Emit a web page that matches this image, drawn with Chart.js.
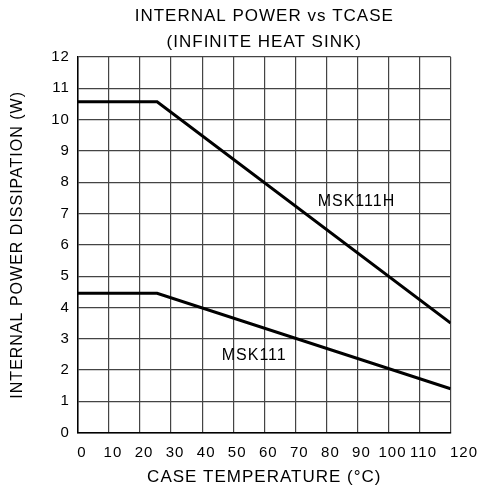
<!DOCTYPE html>
<html>
<head>
<meta charset="utf-8">
<script src="https://cdn.jsdelivr.net/npm/chart.js@4/dist/chart.umd.min.js"></script>
<style>
  html, body { margin: 0; padding: 0; background: #fff; }
</style>
</head>
<body>
<canvas id="power_chart" width="485" height="494"></canvas>
<script>
// curve break points (case temp in C, power in W)
var tcase_h = [0, 25.5, 120];
var power_h = [10.57, 10.57, 3.5];
var tcase_l = [0, 25.5, 120];
var power_l = [4.45, 4.45, 1.4];

// curve names and where they are written (data coords)
var curve_names = ['MSK111H', 'MSK111'];
var name_x = [77.2, 46.3];
var name_y = [7.38, 2.47];

var title_lines = ['INTERNAL POWER vs TCASE', '(INFINITE HEAT SINK)'];
var x_title = 'CASE TEMPERATURE (\u00B0C)';
var y_title = 'INTERNAL POWER DISSIPATION (W)';

var FONT = 'Liberation Sans';

function toPoints(xs, ys) {
    var pts = [];
    for (var i = 0; i < xs.length; ++i) {
        pts.push({x: xs[i], y: ys[i]});
    }
    return pts;
}

// the drawing uses a spaced out lettering, keep it on the context
function setSpacing(chart) {
    chart.ctx.letterSpacing = '1px';
}

var spacing = {
    id: 'spacing',
    afterInit: setSpacing,
    beforeUpdate: setSpacing,
    beforeLayout: setSpacing,
    beforeDraw: setSpacing
};

// writes the curve names inside the plot, placed with the scales
var curveNames = {
    id: 'curveNames',
    afterDatasetsDraw: function(chart) {
        var ctx = chart.ctx;
        var xs = chart.scales.x, ys = chart.scales.y;
        ctx.save();
        ctx.font = '16px "' + FONT + '"';
        ctx.fillStyle = '#000';
        ctx.textAlign = 'left';
        ctx.textBaseline = 'middle';
        for (var i = 0; i < curve_names.length; ++i) {
            ctx.fillText(curve_names[i], xs.getPixelForValue(name_x[i]), ys.getPixelForValue(name_y[i]));
        }
        ctx.restore();
    }
};

var chart_el = document.getElementById('power_chart');

let powerChart = new Chart(chart_el, {
    type: 'line',
    data: {
        datasets: [
            {
                label: curve_names[0],
                data: toPoints(tcase_h, power_h),
                borderColor: '#000',
                borderWidth: 3,
                pointRadius: 0,
                tension: 0,
                fill: false
            },
            {
                label: curve_names[1],
                data: toPoints(tcase_l, power_l),
                borderColor: '#000',
                borderWidth: 3,
                pointRadius: 0,
                tension: 0,
                fill: false
            }
        ]
    },
    options: {
        responsive: false,
        animation: false,
        layout: {
            autoPadding: false,
            padding: {left: 0, right: 30, top: 3, bottom: 6}
        },
        plugins: {
            legend: {display: false},
            tooltip: {enabled: false},
            title: {
                display: true,
                fullSize: false,
                text: title_lines,
                color: '#000',
                font: {family: FONT, size: 17, weight: 'normal', lineHeight: 1.53},
                padding: {top: 0, bottom: 2}
            }
        },
        scales: {
            x: {
                type: 'linear',
                min: 0,
                max: 120,
                border: {display: true, color: '#000', width: 1.5},
                grid: {color: '#444', lineWidth: 1.2, drawTicks: false},
                ticks: {
                    stepSize: 10,
                    autoSkip: false,
                    color: '#000',
                    padding: 11,
                    labelOffset: 4,
                    maxRotation: 0,
                    font: {family: FONT, size: 15},
                    callback: function(value) {
                        // the last label hangs past the frame
                        if (value == 120) return '\u2007\u2007' + value;
                        return value;
                    }
                },
                title: {
                    display: true,
                    text: x_title,
                    color: '#000',
                    font: {family: FONT, size: 17},
                    padding: {top: -5, bottom: 0}
                }
            },
            y: {
                min: 0,
                max: 12,
                border: {display: true, color: '#000', width: 1.5},
                grid: {color: '#444', lineWidth: 1.2, drawTicks: false},
                ticks: {
                    stepSize: 1,
                    color: '#000',
                    padding: 8,
                    font: {family: FONT, size: 15}
                },
                title: {
                    display: true,
                    text: y_title,
                    color: '#000',
                    font: {family: FONT, size: 16},
                    padding: {top: 8, bottom: 16}
                }
            }
        }
    },
    plugins: [spacing, curveNames]
});
</script>
</body>
</html>
